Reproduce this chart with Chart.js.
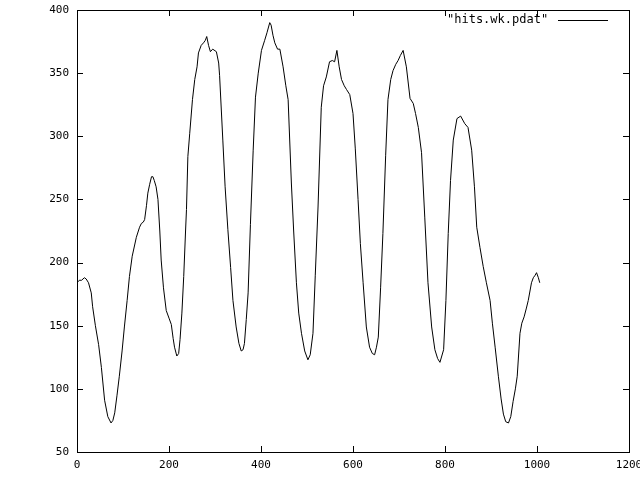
<!DOCTYPE html>
<html>
<head>
<meta charset="utf-8">
<script src="https://cdn.jsdelivr.net/npm/chart.js@4/dist/chart.umd.min.js"></script>
<style>
  html, body { margin: 0; padding: 0; background: #fff; }
  #wrap { width: 640px; height: 480px; }
</style>
</head>
<body>
<div id="wrap"><canvas id="hitsChart" width="640" height="480"></canvas></div>
<script>
const seriesLabel = '"hits.wk.pdat"';

const xValues = [
  0, 5, 10, 16, 20, 25, 31, 34, 40, 47, 53, 60, 67, 74, 78, 82, 87, 92, 98, 103,
  109, 114, 120, 129, 136, 140, 144, 147, 151, 154, 158, 162, 165, 168, 172, 176, 180, 183, 188, 194,
  200, 205, 209, 212, 217, 221, 224, 228, 232, 236, 238, 241, 245, 251, 256, 261, 264, 270, 275, 279,
  282, 286, 290, 295, 303, 308, 310, 317, 322, 328, 334, 339, 346, 352, 357, 361, 364, 368, 372, 377,
  383, 388, 394, 401, 408, 413, 419, 422, 426, 430, 436, 441, 448, 454, 459, 466, 471, 477, 482, 488,
  495, 502, 507, 513, 518, 524, 531, 536, 542, 549, 555, 560, 565, 570, 575, 581, 586, 593, 600, 605,
  611, 616, 622, 629, 636, 642, 647, 651, 655, 660, 665, 671, 676, 682, 687, 693, 698, 703, 709, 716,
  724, 731, 736, 742, 749, 756, 763, 771, 778, 784, 789, 797, 802, 807, 812, 818, 826, 834, 843, 850,
  858, 864, 869, 876, 883, 890, 898, 903, 909, 916, 922, 927, 932, 938, 943, 948, 953, 957, 963, 967,
  972, 977, 981, 988, 992, 996, 999, 1003, 1006
];

const hitValues = [
  184, 186, 186, 188, 187, 184, 176, 165, 150, 135, 117, 91, 78, 73, 75, 81, 95, 110, 130, 149,
  170, 189, 205, 220, 228, 231, 232, 234, 245, 255, 262, 268, 268, 265, 260, 250, 225, 202, 180, 162,
  156, 151, 140, 133, 126, 128, 139, 160, 189, 225, 242, 284, 302, 329, 345, 355, 366, 372, 374, 376,
  379, 372, 367, 369, 367, 358, 348, 297, 260, 226, 196, 170, 149, 136, 130, 131, 136, 155, 176, 230,
  289, 331, 350, 368, 376, 382, 390, 388, 380, 374, 369, 369, 355, 340, 329, 263, 225, 184, 160, 144,
  130, 123, 127, 144, 190, 244, 323, 340, 347, 359, 360, 359, 368, 355, 345, 340, 337, 333, 318, 290,
  250, 215, 184, 149, 133, 128, 127, 133, 141, 180, 223, 285, 329, 345, 352, 357, 360, 364, 368, 355,
  330, 326, 318, 307, 287, 236, 184, 149, 131, 124, 121, 131, 170, 223, 265, 297, 314, 316, 310, 307,
  289, 260, 228, 212, 197, 184, 170, 152, 133, 110, 92, 80, 74, 73, 78, 90, 100, 110, 144, 152,
  157, 164, 170, 184, 188, 190, 192, 188, 184
];

const xTicks = [0, 200, 400, 600, 800, 1000, 1200];
const yTicks = [50, 100, 150, 200, 250, 300, 350, 400];

const points = xValues.map((x, i) => ({ x: x, y: hitValues[i] }));
const fontFamily = "'DejaVu Sans Mono', 'Liberation Mono', monospace";
const tickFont = { family: fontFamily, size: 11 };

// gnuplot-like frame, inward ticks on all four sides, key at top right
const framePlugin = {
  id: "frame",
  afterDraw(chart) {
    const c = chart.ctx;
    const area = chart.chartArea;
    const xs = chart.scales.x;
    const ys = chart.scales.y;
    const tick = 6;

    c.save();
    c.strokeStyle = "#000";
    c.lineWidth = 1;
    c.strokeRect(area.left + 0.5, area.top + 0.5, area.right - area.left, area.bottom - area.top);

    c.beginPath();
    for (let v of xTicks) {
      const px = Math.round(xs.getPixelForValue(v)) + 0.5;
      c.moveTo(px, area.bottom);
      c.lineTo(px, area.bottom - tick);
      c.moveTo(px, area.top);
      c.lineTo(px, area.top + tick);
    }
    for (let v of yTicks) {
      const py = Math.round(ys.getPixelForValue(v)) + 0.5;
      c.moveTo(area.left, py);
      c.lineTo(area.left + tick, py);
      c.moveTo(area.right, py);
      c.lineTo(area.right - tick, py);
    }
    c.stroke();

    c.font = "12px " + fontFamily;
    c.fillStyle = "#000";
    c.textAlign = "left";
    c.textBaseline = "middle";
    c.fillText(seriesLabel, 447, 20);
    c.beginPath();
    c.moveTo(558, 20.5);
    c.lineTo(608, 20.5);
    c.stroke();
    c.restore();
  },
};

const ctx = document.getElementById("hitsChart").getContext("2d");

// eslint-disable-next-line no-undef
new Chart(ctx, {
  type: "line",
  data: {
    datasets: [
      {
        label: seriesLabel,
        data: points,
        borderColor: "#000",
        borderWidth: 1,
        pointRadius: 0,
        tension: 0,
        fill: false,
      },
    ],
  },
  options: {
    responsive: false,
    animation: false,
    layout: {
      padding: { left: 0, top: 10, right: 11, bottom: 0 },
    },
    plugins: {
      legend: { display: false },
      tooltip: { enabled: false },
    },
    scales: {
      x: {
        type: "linear",
        min: 0,
        max: 1200,
        grid: { display: false, drawTicks: false },
        border: { display: false },
        afterFit: (scale) => {
          scale.height = 28;
          scale.paddingLeft = 0;
          scale.paddingRight = 0;
        },
        afterBuildTicks: (scale) => {
          scale.ticks = xTicks.map((v) => ({ value: v }));
        },
        ticks: {
          color: "#000",
          font: tickFont,
          padding: 7,
          maxRotation: 0,
          callback: (v) => String(v),
        },
      },
      y: {
        type: "linear",
        min: 50,
        max: 400,
        grid: { display: false, drawTicks: false },
        border: { display: false },
        afterFit: (scale) => {
          scale.width = 77;
          scale.paddingTop = 0;
          scale.paddingBottom = 0;
        },
        afterBuildTicks: (scale) => {
          scale.ticks = yTicks.map((v) => ({ value: v }));
        },
        ticks: {
          color: "#000",
          font: tickFont,
          padding: 8,
          callback: (v) => String(v),
        },
      },
    },
  },
  plugins: [framePlugin],
});
</script>
</body>
</html>
